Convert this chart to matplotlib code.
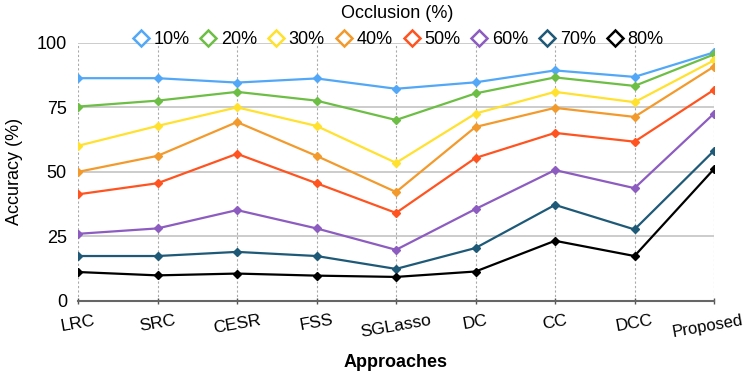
import matplotlib
matplotlib.use("Agg")
import matplotlib.pyplot as plt
import matplotlib.transforms as mtransforms
from matplotlib.lines import Line2D

plt.rcParams['font.family'] = ['Liberation Sans', 'DejaVu Sans']

approaches = ["LRC", "SRC", "CESR", "FSS", "SGLasso", "DC", "CC", "DCC", "Proposed"]
labels = ["10%", "20%", "30%", "40%", "50%", "60%", "70%", "80%"]
occ10 = [86.3, 86.3, 84.6, 86.2, 82.2, 84.7, 89.3, 86.8, 96.3]
occ20 = [75.3, 77.6, 81.0, 77.6, 70.1, 80.4, 86.6, 83.3, 95.5]
occ30 = [60.1, 67.8, 75.0, 67.8, 53.5, 72.6, 81.0, 77.0, 93.2]
occ40 = [50.0, 56.2, 69.3, 56.2, 42.2, 67.4, 74.8, 71.3, 90.8]
occ50 = [41.3, 45.6, 57.0, 45.6, 34.1, 55.4, 65.1, 61.7, 81.8]
occ60 = [26.0, 28.1, 35.2, 28.1, 19.8, 35.6, 50.7, 43.7, 72.6]
occ70 = [17.4, 17.4, 19.0, 17.4, 12.4, 20.5, 37.2, 27.7, 58.2]
occ80 = [11.2, 9.9, 10.6, 9.8, 9.3, 11.4, 23.3, 17.4, 51.1]
series = [occ10, occ20, occ30, occ40, occ50, occ60, occ70, occ80]
colors = ["#52A8F7", "#6DBE45", "#FFE12E", "#F39A2C", "#FF5420", "#8D5CC0", "#1E5A78", "#000000"]

fig = plt.figure(figsize=(7.46, 3.79), dpi=100)
ax = fig.add_axes([0.1046, 0.206, 0.8525, 0.681])

x = list(range(len(approaches)))
for vals, c in zip(series, colors):
    ax.plot(x, vals, color=c, lw=1.6, marker="D", ms=4.5, mfc=c, mec=c, zorder=3)

ax.set_xlim(0, len(approaches) - 1)
ax.set_ylim(0, 100)
ax.set_yticks([0, 25, 50, 75, 100])
ax.set_xticks(x)
ax.set_xticklabels(approaches, rotation=10, fontsize=12.5)
ax.tick_params(axis='y', length=0, labelsize=13, pad=8)
ax.tick_params(axis='x', length=5, width=1, color="#555555", direction='inout', pad=6)

last = ax.get_xticklabels()[-1]
last.set_fontsize(12)
last.set_transform(last.get_transform() + mtransforms.ScaledTranslation(-6 / 100, 0, fig.dpi_scale_trans))

ax.grid(axis='y', color="#c8c8c8", lw=1.3, ls='-', zorder=0)
ax.grid(axis='x', color="#aaaaaa", lw=0.8, ls=(0, (2, 2)), zorder=0)
for s in ['top', 'left', 'right']:
    ax.spines[s].set_visible(False)
ax.spines['bottom'].set_color("#666666")
ax.spines['bottom'].set_linewidth(1.5)

ax.set_ylabel("Accuracy (%)", fontsize=13, labelpad=10)
ax.set_xlabel("Approaches", fontsize=13, fontweight='bold', labelpad=10)

handles = [Line2D([], [], ls='none', marker="D", ms=8, mfc='white', mec=c, mew=1.8) for c in colors]
leg = fig.legend(handles, labels, loc='upper center', bbox_to_anchor=(0.533, 1.015), ncol=8,
                 frameon=False, fontsize=13, title="Occlusion (%)", title_fontsize=13,
                 handletextpad=0.2, columnspacing=0.55, handlelength=1.0, borderaxespad=0.2)

fig.savefig("out.png", dpi=100)
